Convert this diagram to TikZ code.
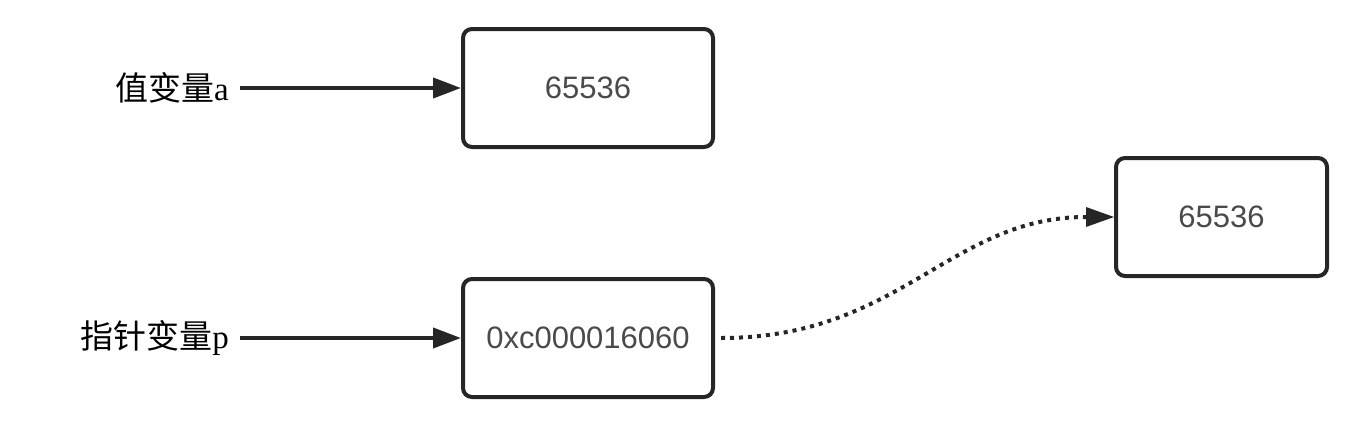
\documentclass[tikz,border=0pt]{standalone}
\usepackage{fontspec}
\setmainfont{Liberation Serif}
\newfontfamily\cjk{Noto Sans CJK SC}
\newfontfamily\boxfont{Liberation Sans}
\usetikzlibrary{arrows.meta}
\definecolor{linec}{HTML}{262626}
\definecolor{textc}{HTML}{4A4A4A}
\begin{document}
\begin{tikzpicture}[x=1pt,y=-1pt,
  membox/.style={draw=linec, line width=4pt, rounded corners=9pt, minimum height=118pt, inner sep=0pt, font=\boxfont\fontsize{31}{36}\selectfont, text=textc},
  lbl/.style={font=\fontsize{33}{38}\selectfont, text=black, inner sep=0pt, anchor=east},
  conn/.style={draw=linec, line width=4pt, -{Triangle[length=28pt,width=20pt]}},
  ptr/.style={draw=linec, line width=4pt, dash pattern=on 4pt off 5pt, -{Triangle[length=28pt,width=20pt,line width=0pt]}}]
\useasboundingbox (0,0) rectangle (1364,431);
\node[membox, minimum width=250pt] (va) at (588,88) {65536};
\node[membox, minimum width=250pt] (vp) at (588,338) {0xc000016060};
\node[membox, minimum width=211pt] (vt) at (1221.5,217) {65536};
\node[lbl] (la) at (229,88) {{\cjk 值变量}a};
\node[lbl] (lp) at (229,338) {{\cjk 指针变量}p};
\draw[conn] (240,88) -- (va.west);
\draw[conn] (240,338) -- (vp.west);
\draw[ptr] ([xshift=6pt]vp.east) .. controls (900,338) and (950,217) .. (vt.west);
\end{tikzpicture}
\end{document}
